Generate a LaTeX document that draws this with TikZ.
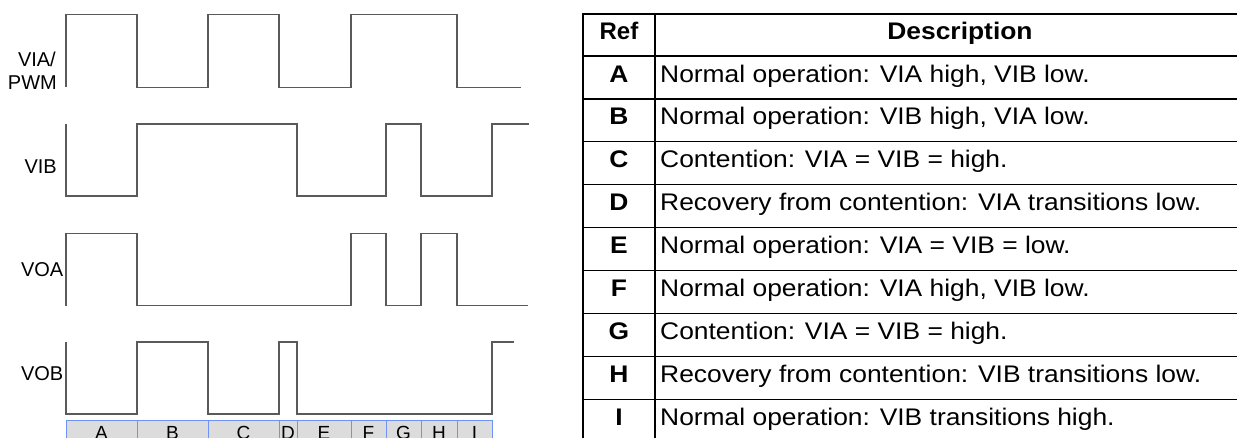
\documentclass[tikz,border=0pt]{standalone}
\usepackage{fontspec}
\setmainfont{Liberation Sans}
\definecolor{wavegray}{HTML}{5A5A5A}
\definecolor{barfill}{HTML}{DCDCDC}
\definecolor{barblue}{HTML}{6E93F5}
\begin{document}
\begin{tikzpicture}[x=1pt,y=-1pt,
  wave/.style={draw=wavegray, line width=1.1pt, line join=miter},
  siglabel/.style={anchor=base east, inner sep=0pt, font=\fontsize{20}{20}\selectfont},
  barcell/.style={fill=barfill, draw=barblue, line width=1pt},
  barlabel/.style={anchor=base, inner sep=0pt, font=\fontsize{19}{19}\selectfont},
  tline/.style={draw=black, line width=1.2pt},
  tborder/.style={draw=black, line width=2.2pt},
  refcell/.style={anchor=base, inner sep=0pt, font=\fontsize{24}{24}\selectfont\bfseries},
  desccell/.style={anchor=base west, inner sep=0pt, font=\fontsize{24}{24}\selectfont}]
\clip (0,0) rectangle (1237,437);
\fill[white] (0,0) rectangle (1237,437);

% signal labels
\node[siglabel] (lvia) at (56,66.7) {VIA/};
\node[siglabel] (lpwm) at (57,89.3) {PWM};
\node[siglabel] (lvib) at (57,173) {VIB};
\node[siglabel] (lvoa) at (63.5,276) {VOA};
\node[siglabel] (lvob) at (63.5,380) {VOB};

% waveforms
\draw[wave] (66,87.3) -- (66,14.7) -- (137,14.7) -- (137,87.3) -- (208,87.3) -- (208,14.7) -- (279,14.7) -- (279,87.3) -- (351,87.3) -- (351,14.7) -- (457,14.7) -- (457,87.3) -- (521,87.3);
\draw[wave] (66,124) -- (66,196) -- (137,196) -- (137,124) -- (297,124) -- (297,196) -- (386,196) -- (386,124) -- (421,124) -- (421,196) -- (492,196) -- (492,124) -- (529,124);
\draw[wave] (66,305.7) -- (66,233.3) -- (137,233.3) -- (137,305.7) -- (351,305.7) -- (351,233.3) -- (386,233.3) -- (386,305.7) -- (421,305.7) -- (421,233.3) -- (457,233.3) -- (457,305.7) -- (528,305.7);
\draw[wave] (66,342) -- (66,414) -- (137,414) -- (137,342) -- (208,342) -- (208,414) -- (279,414) -- (279,342) -- (297,342) -- (297,414) -- (492,414) -- (492,342) -- (514,342);

% segment bar
\foreach \a/\b/\l in {66/137/A,137/208/B,208/279/C,279/297/D,297/351/E,351/386/F,386/421/G,421/457/H,457/492/I}{
  \draw[barcell] (\a,420.7) rectangle (\b,450);
  \node[barlabel] (seg\l) at ({(\a+\b)/2},439.5) {\l};
}

% table
\foreach \y in {56,98.9,141.8,184.7,227.6,270.5,313.4,356.3,399.2}{
  \draw[tline] (583,\y) -- (1240,\y);
}
\draw[tline] (655,14) -- (655,440);
\draw[tborder] (583,14) -- (1240,14);
\draw[tborder] (583,13) -- (583,440);

\node[refcell] (href) at (619,39.5) {Ref};
\node[refcell] (hdesc) at (960,39.5) {\scalebox{1.1}[1]{Description}};

\foreach \i/\r/\t in {0/A/{Normal operation: VIA high, VIB low.},
                      1/B/{Normal operation: VIB high, VIA low.},
                      2/C/{Contention: VIA = VIB = high.},
                      3/D/{Recovery from contention: VIA transitions low.},
                      4/E/{Normal operation: VIA = VIB = low.},
                      5/F/{Normal operation: VIA high, VIB low.},
                      6/G/{Contention: VIA = VIB = high.},
                      7/H/{Recovery from contention: VIB transitions low.},
                      8/I/{Normal operation: VIB transitions high.}}{
  \node[refcell] (ref\r) at (619,{56+42.9*\i+26}) {\scalebox{1.1}[1]{\r}};
  \node[desccell] (desc\r) at (660,{56+42.9*\i+26}) {\scalebox{1.1}[1]{\t}};
}
\end{tikzpicture}
\end{document}
